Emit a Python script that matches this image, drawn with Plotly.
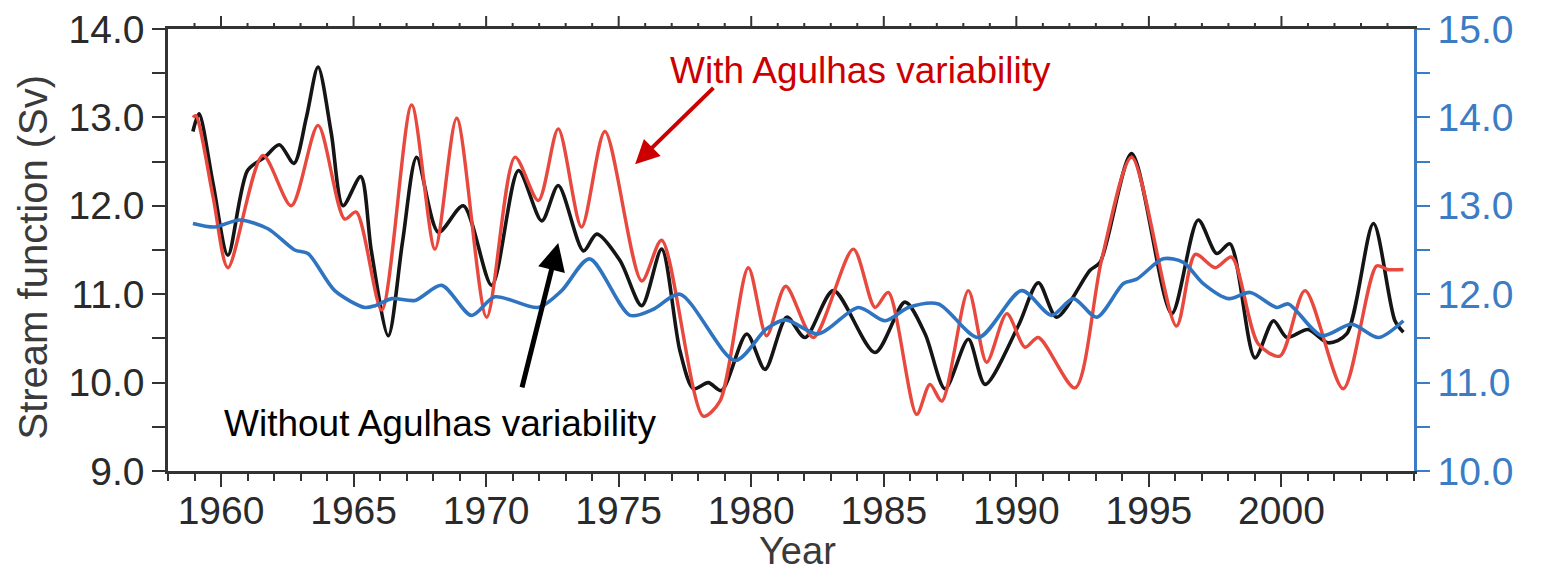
import plotly.graph_objects as go

# Black: without Agulhas variability (left axis, Sv)
years_black = [1958.94, 1959.17, 1959.7, 1960.26, 1961.0, 1961.65, 1962.2, 1962.75, 1963.22, 1963.66,
               1964.16, 1964.6, 1965.27, 1965.67, 1966.31, 1966.85, 1967.38, 1968.2, 1969.14, 1970.21,
               1971.22, 1972.1, 1972.72, 1973.67, 1974.17, 1975.05, 1975.87, 1976.62, 1977.31, 1977.82,
               1978.38, 1978.88, 1979.83, 1980.52, 1981.34, 1982.03, 1983.1, 1984.67, 1985.8, 1986.56,
               1987.31, 1988.19, 1988.82, 1990.07, 1990.83, 1991.52, 1992.78, 1993.16, 1994.35, 1995.86,
               1996.86, 1997.56, 1998.06, 1999.0, 1999.7, 2000.2, 2001.0, 2001.77, 2002.46, 2003.47,
               2004.28, 2004.6]
values_black = [12.84, 13.04, 12.25, 11.44, 12.40, 12.55, 12.69, 12.48, 13.0, 13.57,
                12.82, 12.0, 12.33, 11.49, 10.53, 11.6, 12.55, 11.70, 12.0, 11.10,
                12.40, 11.83, 12.23, 11.49, 11.68, 11.38, 10.87, 11.51, 10.36, 9.93,
                10.0, 9.91, 10.55, 10.15, 10.74, 10.51, 11.04, 10.34, 10.91, 10.55,
                9.93, 10.49, 9.98, 10.64, 11.13, 10.74, 11.27, 11.36, 12.59, 10.78,
                11.84, 11.46, 11.57, 10.28, 10.70, 10.51, 10.60, 10.45, 10.55, 11.80,
                10.70, 10.57]

# Red: with Agulhas variability (left axis, Sv)
years_red = [1958.94, 1959.05, 1959.7, 1960.26, 1961.58, 1962.65, 1963.66, 1964.66, 1965.1, 1966.06,
             1967.19, 1968.07, 1968.89, 1970.02, 1971.09, 1971.97, 1972.72, 1973.6, 1974.48, 1975.87,
             1976.62, 1978.19, 1978.82, 1979.89, 1980.58, 1981.3, 1982.34, 1983.85, 1984.67, 1985.17,
             1986.24, 1986.74, 1987.19, 1988.19, 1988.88, 1989.64, 1990.33, 1990.83, 1992.21, 1993.21,
             1994.35, 1996.04, 1996.75, 1997.5, 1998.12, 1999.12, 1999.94, 2000.89, 2002.33, 2003.59,
             2004.0, 2004.6]
values_red = [13.0, 13.02, 12.1, 11.30, 12.57, 12.0, 12.91, 11.85, 11.93, 10.82,
              13.14, 11.51, 12.99, 10.74, 12.55, 12.06, 12.87, 11.76, 12.84, 11.15,
              11.61, 9.62, 9.79, 11.30, 10.53, 11.09, 10.51, 11.51, 10.85, 11.02,
              9.64, 9.98, 9.79, 11.04, 10.23, 10.78, 10.40, 10.51, 9.94, 11.38,
              12.55, 10.64, 11.45, 11.30, 11.42, 10.44, 10.30, 11.04, 9.93, 11.32,
              11.28, 11.28]

# Blue: right axis values
years_blue = [1958.94, 1959.76, 1960.7, 1961.77, 1962.78, 1963.28, 1964.29, 1965.42, 1965.81, 1966.44,
              1967.32, 1968.32, 1969.45, 1970.33, 1971.97, 1972.85, 1973.9, 1975.43, 1976.31, 1977.31,
              1979.39, 1980.58, 1981.3, 1982.53, 1984.04, 1985.05, 1985.93, 1987.06, 1988.57, 1990.2,
              1991.33, 1992.15, 1993.03, 1994.04, 1994.54, 1995.54, 1996.3, 1997.05, 1998.0, 1998.82,
              1999.82, 2000.26, 2001.52, 2002.65, 2003.66, 2004.6]
values_blue = [12.80, 12.76, 12.84, 12.74, 12.50, 12.46, 12.04, 11.85, 11.87, 11.95,
               11.93, 12.10, 11.76, 11.97, 11.85, 12.04, 12.40, 11.76, 11.83, 12.00,
               11.25, 11.61, 11.71, 11.55, 11.85, 11.70, 11.85, 11.89, 11.51, 12.04,
               11.76, 11.95, 11.74, 12.12, 12.17, 12.40, 12.36, 12.12, 11.95, 12.02,
               11.85, 11.89, 11.53, 11.66, 11.51, 11.70]

x_ticks = [1960, 1965, 1970, 1975, 1980, 1985, 1990, 1995, 2000]
x_min, x_max = 1958, 2005

FONT = "Liberation Sans, Arial, Helvetica, sans-serif"
AXIS_GRAY = "#333333"
BLUE_AX = "#3b7cc4"
PLOT_H = 573 - 29 - 102

fig = go.Figure()
fig.add_trace(go.Scatter(x=years_black, y=values_black, mode="lines",
                         line=dict(color="#151515", width=3.6, shape="spline", smoothing=0.8),
                         showlegend=False))
fig.add_trace(go.Scatter(x=years_red, y=values_red, mode="lines",
                         line=dict(color="#e8493f", width=3.4, shape="spline", smoothing=0.8),
                         showlegend=False))
fig.add_trace(go.Scatter(x=years_blue, y=values_blue, mode="lines", yaxis="y2",
                         line=dict(color="#2f74c0", width=3.6, shape="spline", smoothing=0.8),
                         showlegend=False))

fig.update_layout(
    width=1541, height=573,
    margin=dict(l=168, r=127, t=29, b=102, autoexpand=False),
    paper_bgcolor="white", plot_bgcolor="white",
    font=dict(family=FONT, size=38, color=AXIS_GRAY),
    xaxis=dict(range=[x_min, x_max], tickvals=x_ticks, ticks="outside", ticklen=13, tickwidth=2,
               tickcolor=AXIS_GRAY, showline=True, linecolor=AXIS_GRAY, linewidth=2.5,
               mirror=True, showgrid=False, zeroline=False, ticklabelstandoff=-10,
               automargin=False, tickfont=dict(size=39, color="#2a2a2a"),
               minor=dict(dtick=1, tick0=x_min, ticks="outside", ticklen=7, tickwidth=2,
                          tickcolor=AXIS_GRAY, showgrid=False)),
    yaxis=dict(range=[9, 14], dtick=1, tick0=9, tickformat=".1f", ticks="outside", ticklen=13,
               tickwidth=2, tickcolor=AXIS_GRAY, showline=True, linecolor=AXIS_GRAY, linewidth=2.5,
               showgrid=False, zeroline=False, automargin=False,
               tickfont=dict(size=39, color="#2a2a2a"),
               minor=dict(dtick=0.5, tick0=9, ticks="outside", ticklen=13, tickwidth=2,
                          tickcolor=AXIS_GRAY, showgrid=False)),
    yaxis2=dict(range=[10, 15], dtick=1, tick0=10, tickformat=".1f", overlaying="y", side="right",
                ticks="outside", ticklen=13, tickwidth=2, tickcolor=BLUE_AX, showline=True,
                linecolor=BLUE_AX, linewidth=2.5, showgrid=False, zeroline=False, automargin=False,
                tickfont=dict(size=39, color=BLUE_AX),
                minor=dict(dtick=0.5, tick0=10, ticks="outside", ticklen=13, tickwidth=2,
                           tickcolor=BLUE_AX, showgrid=False)),
)

# Top-edge ticks (major every 5 years, minor every year) placed through the x scale
shapes = []
for yr in range(x_min + 1, x_max):
    length = 13 if yr in x_ticks else 6
    shapes.append(dict(type="line", xref="x", yref="paper", x0=yr, x1=yr,
                       y0=1, y1=1 + length / PLOT_H,
                       line=dict(color=AXIS_GRAY, width=2), layer="above"))
fig.update_layout(shapes=shapes)

annotations = [
    dict(text="Stream function (Sv)", xref="paper", yref="paper", x=-0.108, y=0.484,
         textangle=-90, showarrow=False, xanchor="center", yanchor="middle",
         font=dict(family=FONT, size=40, color="#3a3a3a")),
    dict(text="Year", xref="paper", yref="paper", x=0.505, y=-0.18, showarrow=False,
         xanchor="center", yanchor="middle", font=dict(family=FONT, size=38, color="#3a3a3a")),
    dict(text="With Agulhas variability", xref="x", yref="y", x=1984.14, y=13.53, showarrow=False,
         xanchor="center", yanchor="middle", font=dict(family=FONT, size=37, color="#cc0000")),
    dict(text="Without Agulhas variability", xref="x", yref="y", x=1968.26, y=9.54, showarrow=False,
         xanchor="center", yanchor="middle", font=dict(family=FONT, size=37, color="#000000")),
    dict(text="", x=1975.62, y=12.47, xref="x", yref="y", ax=1978.63, ay=13.35, axref="x", ayref="y",
         showarrow=True, arrowhead=2, arrowsize=1.2, arrowwidth=4, arrowcolor="#cc0000"),
    dict(text="", x=1972.72, y=11.58, xref="x", yref="y", ax=1971.34, ay=9.93, axref="x", ayref="y",
         showarrow=True, arrowhead=2, arrowsize=1.1, arrowwidth=5, arrowcolor="#000000"),
]
fig.update_layout(annotations=annotations)

fig.write_html("out.html")
